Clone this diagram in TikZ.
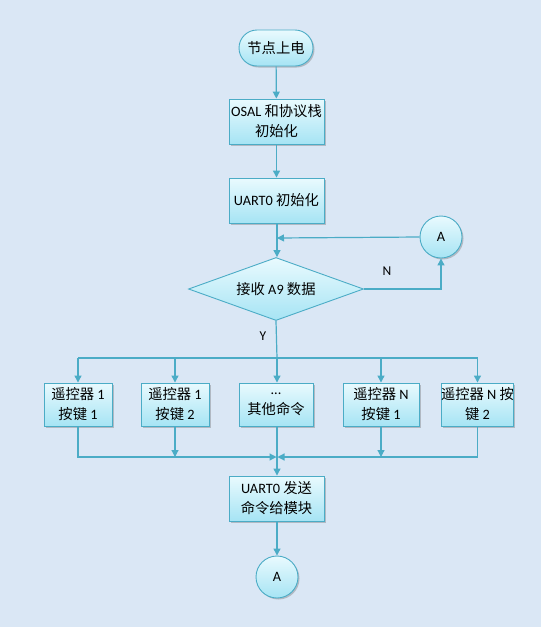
\documentclass[tikz,border=0pt]{standalone}
\usepackage{fontspec}
\setmainfont{Noto Sans CJK SC}
\newfontfamily\latf{Carlito}
\usetikzlibrary{shapes.geometric,arrows.meta,shadows}
\definecolor{bgc}{HTML}{DAE7F5}
\definecolor{edge}{HTML}{4BACC6}
\definecolor{topc}{HTML}{E9FAFE}
\definecolor{botc}{HTML}{A6E4F4}
\newcommand\lt[1]{{\latf #1}}
\tikzset{
  base/.style={draw=edge, line width=0.9pt, top color=topc, bottom color=botc,
    align=center, font=\fontsize{14.3}{20}\selectfont, inner sep=0pt,
    drop shadow={shadow xshift=1.5pt, shadow yshift=-1.5pt, opacity=0.35, fill=black!60}},
  procbox/.style={base, rectangle, minimum width=95pt, minimum height=45pt},
  smallbox/.style={base, rectangle, minimum width=68pt, minimum height=43pt},
  termbox/.style={base, rectangle, rounded corners=18pt, minimum width=74pt, minimum height=36pt},
  conn/.style={base, circle, minimum size=42pt},
  decision/.style={draw=edge, line width=0.9pt, top color=topc, bottom color=botc,
    diamond, aspect=2.78, minimum width=175pt, minimum height=63pt, inner sep=0pt,
    font=\fontsize{14.3}{20}\selectfont},
  flow/.style={draw=edge, line width=1.2pt},
  arr/.style={flow, -{Triangle[length=7pt,width=7pt]}},
  lab/.style={font=\latf\fontsize{13.5}{15}\selectfont}
}
\begin{document}
\begin{tikzpicture}[x=1pt,y=-1pt]
\fill[bgc] (0,0) rectangle (541,627);
\useasboundingbox (0,0) rectangle (541,627);

\node[termbox] (start) at (276,48) {节点上电};
\node[procbox] (osal) at (276.5,121.5) {\lt{OSAL} 和协议栈\\初始化};
\node[procbox] (uinit) at (276.5,200.5) {\lt{UART0} 初始化};
\node[decision] (dec) at (276,289) {接收 \lt{A9} 数据};
\node[conn] (a1) at (441,237) {\lt{A}};

\node[smallbox] (b1) at (78,404.5) {遥控器 \lt{1}\\按键 \lt{1}};
\node[smallbox] (b2) at (175,404.5) {遥控器 \lt{1}\\按键 \lt{2}};
\node[smallbox, minimum width=74pt] (b3) at (276,404.5) {\lt{...}\\其他命令};
\node[smallbox, minimum width=76pt] (b4) at (381,404.5) {遥控器 \lt{N}\\按键 \lt{1}};
\node[smallbox, minimum width=71pt] (b5) at (477.5,404.5) {遥控器 \lt{N} 按\\键 \lt{2}};

\node[procbox] (usend) at (276.5,498.5) {\lt{UART0} 发送\\命令给模块};
\node[conn] (a2) at (277,577) {\lt{A}};

\coordinate (merge) at (277,238);
\coordinate (split) at (277,358);
\coordinate (join) at (277,457);

\draw[arr] (start) -- (osal);
\draw[arr] (osal) -- (uinit);
\draw[flow] (uinit.south -| merge) -- (merge);
\draw[arr] (merge) -- (dec.north -| merge);
\draw[arr] (a1.west) -- (merge);
\draw[arr] (dec.east) -- (dec.east -| a1.south) -- (a1.south);
\node[lab] at (387,271) {N};
\node[lab] at (263,336) {Y};

\draw[flow] (dec.south) -- (split);
\draw[flow] (split -| b1) -- (split -| b5);
\draw[arr] (split -| b1) -- (b1.north);
\draw[arr] (split -| b2) -- (b2.north);
\draw[arr] (split) -- (b3.north -| split);
\draw[arr] (split -| b4) -- (b4.north);
\draw[arr] (split -| b5) -- (b5.north);

\draw[arr] (b1.south) -- (join -| b1) -- ([xshift=-0.5pt]join);
\draw[arr] (b5.south) -- (join -| b5) -- ([xshift=0.5pt]join);
\draw[arr] (b2.south) -- (join -| b2);
\draw[arr] (b4.south) -- (join -| b4);
\draw[flow] (b3.south -| join) -- (join);
\draw[arr] (join) -- (usend.north -| join);
\draw[arr] (usend.south -| a2) -- (a2.north);
\end{tikzpicture}
\end{document}
